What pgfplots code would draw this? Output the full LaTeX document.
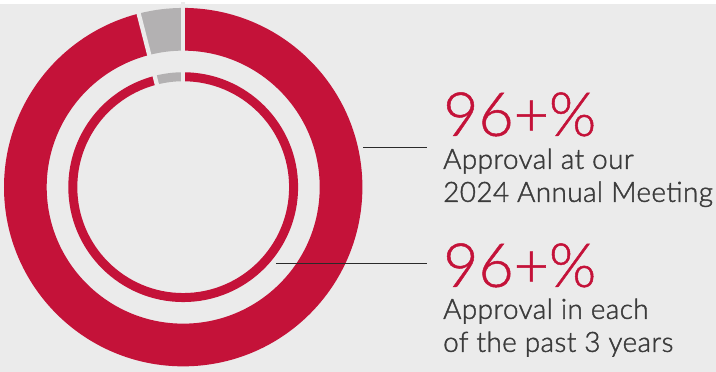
\documentclass[border=0pt]{standalone}
\usepackage{pgfplots}
\pgfplotsset{compat=1.18}
\usepackage{pgfplotstable}
\usepackage{fontspec}
\setmainfont{Lato}[UprightFont=* Light]
\newfontfamily\bodyfont{Lato}[UprightFont=* Light, UprightFeatures={FakeBold=1.5}, LetterSpace=1.5]
\newfontfamily\bigfont{Lato}[UprightFont=* Light, UprightFeatures={FakeBold=0.8}]
\definecolor{bgcol}{HTML}{EBEBEB}
\definecolor{redcol}{HTML}{C41239}
\definecolor{graycol}{HTML}{B3B1B2}
\definecolor{txtcol}{HTML}{3C3C3C}
\definecolor{linecol}{HTML}{2A2A2A}

% ring: approval share and remainder (percent)
\pgfplotstableread{
ring approve other
outer 96 4
inner 96 4
}\ringdata

\begin{document}
\begin{tikzpicture}
\fill[bgcol] (0,0) rectangle (716bp,368bp);
\begin{axis}[
  at={(0,0)}, anchor=south west,
  width=716bp, height=368bp, scale only axis,
  xmin=0, xmax=716, ymin=0, ymax=368,
  hide axis, clip=false,
]
\pgfplotstablegetelem{0}{approve}\of\ringdata \let\oA\pgfplotsretval
\pgfplotstablegetelem{1}{approve}\of\ringdata \let\iA\pgfplotsretval
\pgfmathsetmacro{\oEnd}{90-3.6*\oA}
\pgfmathsetmacro{\iEnd}{90-3.6*\iA}
% outer ring
\draw[redcol, line width=42.7bp] (axis cs:183.2,184.7) ++(90:157.85bp) arc[start angle=90, end angle=\oEnd, radius=157.85bp];
\draw[graycol, line width=42.7bp] (axis cs:183.2,184.7) ++(\oEnd:157.85bp) arc[start angle=\oEnd, end angle=-270, radius=157.85bp];
% inner ring
\draw[redcol, line width=9bp] (axis cs:183.2,184.7) ++(90:110.4bp) arc[start angle=90, end angle=\iEnd, radius=110.4bp];
\draw[graycol, line width=9bp] (axis cs:183.2,184.7) ++(\iEnd:110.4bp) arc[start angle=\iEnd, end angle=-270, radius=110.4bp];
% separators
\draw[bgcol, line width=4.3bp] (axis cs:183.2,184.7) ++(90:100bp) -- ++(90:85bp);
\draw[bgcol, line width=4.3bp] (axis cs:183.2,184.7) ++(\oEnd:100bp) -- ++(\oEnd:85bp);
% leader lines
\draw[linecol, line width=1.3bp] (axis cs:363,224) -- (axis cs:427,224);
\draw[linecol, line width=1.3bp] (axis cs:276,108) -- (axis cs:427,108);
% texts
\node[anchor=base west, inner sep=0, text=redcol, font=\bigfont\fontsize{61}{61}\selectfont] at (axis cs:443,236) {96+\%};
\node[anchor=base west, inner sep=0, text=txtcol, font=\bodyfont\fontsize{28}{33}\selectfont] at (axis cs:443,203) {Approval at our};
\node[anchor=base west, inner sep=0, text=txtcol, font=\bodyfont\fontsize{28}{33}\selectfont] at (axis cs:443,170) {2024 Annual Meeting};
\node[anchor=base west, inner sep=0, text=redcol, font=\bigfont\fontsize{61}{61}\selectfont] at (axis cs:443,85) {96+\%};
\node[anchor=base west, inner sep=0, text=txtcol, font=\bodyfont\fontsize{28}{33}\selectfont] at (axis cs:443,53) {Approval in each};
\node[anchor=base west, inner sep=0, text=txtcol, font=\bodyfont\fontsize{28}{33}\selectfont] at (axis cs:443,20) {of the past 3 years};
\end{axis}
\end{tikzpicture}
\end{document}
